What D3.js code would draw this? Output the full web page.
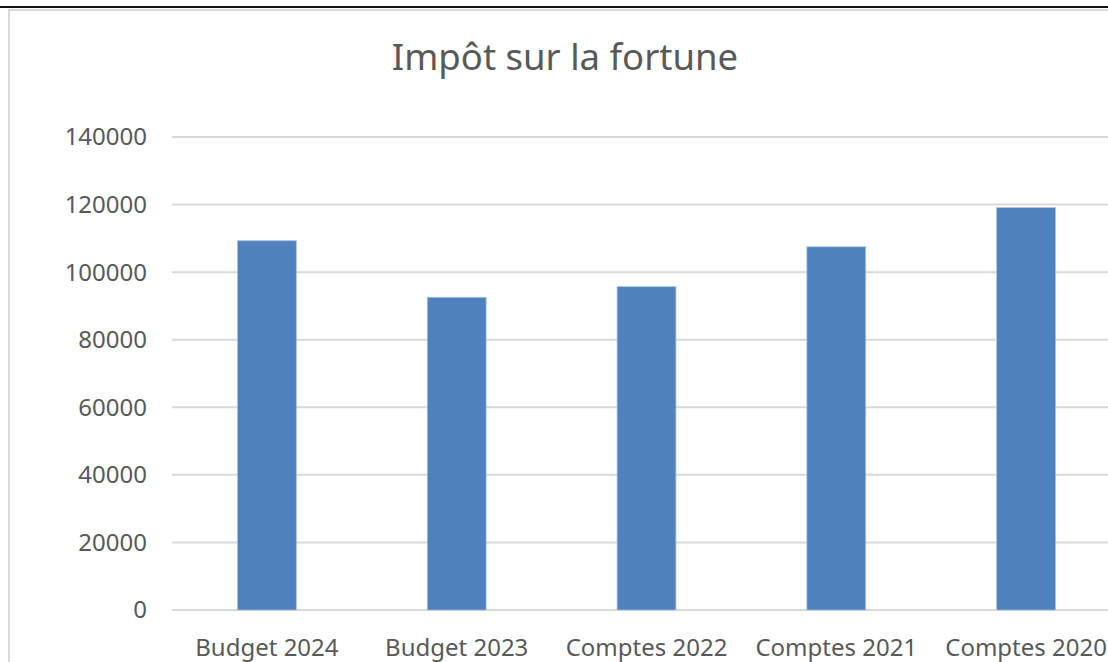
<!DOCTYPE html>
<html>
<head>
<meta charset="utf-8">
<script src="https://cdn.jsdelivr.net/npm/d3@7"></script>
<style>
  body { margin: 0; background: #fff; }
  svg { display: block; font-family: "Noto Sans", sans-serif; }
</style>
</head>
<body>
<svg id="chart_svg"></svg>
<script>
// chart data
const categories = ["Budget 2024", "Budget 2023", "Comptes 2022", "Comptes 2021", "Comptes 2020"];
const values = [109300, 92550, 95700, 107500, 119100];
const yTicks = [0, 20000, 40000, 60000, 80000, 100000, 120000, 140000];
const title = "Impôt sur la fortune";

const width = 1108;
const height = 662;

// plot area (runs a bit past the right edge, as in the cropped original)
const margin = { top: 137, left: 172, bottom: 52 };
const plotRight = 1121;

const svg = d3.select("#chart_svg").attr("width", width).attr("height", height);

// outer frame lines
svg.append("line")
  .attr("x1", 0).attr("x2", width).attr("y1", 7).attr("y2", 7)
  .attr("stroke", "#111").attr("stroke-width", 2);
svg.append("line")
  .attr("x1", 8).attr("x2", width).attr("y1", 10).attr("y2", 10)
  .attr("stroke", "#d9d9d9").attr("stroke-width", 2);
svg.append("line")
  .attr("x1", 9).attr("x2", 9).attr("y1", 10).attr("y2", height)
  .attr("stroke", "#d9d9d9").attr("stroke-width", 2);

// scales
const x = d3.scaleBand()
  .domain(categories)
  .range([margin.left, plotRight])
  .paddingInner(0.69)
  .paddingOuter(0.345);

const y = d3.scaleLinear()
  .domain([0, 140000])
  .range([height - margin.bottom, margin.top]);

// gridlines
svg.append("g")
  .selectAll("line")
  .data(yTicks)
  .enter()
  .append("line")
  .attr("x1", margin.left)
  .attr("x2", plotRight)
  .attr("y1", (d) => y(d))
  .attr("y2", (d) => y(d))
  .attr("stroke", "#d9d9d9")
  .attr("stroke-width", 2);

// y labels
svg.append("g")
  .selectAll("text")
  .data(yTicks)
  .enter()
  .append("text")
  .attr("x", 147)
  .attr("y", (d) => y(d))
  .attr("dy", "0.35em")
  .attr("text-anchor", "end")
  .attr("font-size", 24)
  .attr("fill", "#595959")
  .text((d) => d);

// bars
svg.append("g")
  .selectAll("rect")
  .data(values)
  .enter()
  .append("rect")
  .attr("x", (d, i) => x(categories[i]))
  .attr("y", (d) => y(d))
  .attr("width", x.bandwidth())
  .attr("height", (d) => y(0) - y(d))
  .attr("fill", "#4f81bd")
  .attr("stroke", "#a9c1e2")
  .attr("stroke-width", 0.8);

// x labels
svg.append("g")
  .selectAll("text")
  .data(categories)
  .enter()
  .append("text")
  .attr("x", (d) => x(d) + x.bandwidth() / 2)
  .attr("y", 656)
  .attr("text-anchor", "middle")
  .attr("font-size", 24)
  .attr("fill", "#595959")
  .text((d) => d);

// title
svg.append("text")
  .attr("x", 565)
  .attr("y", 70)
  .attr("text-anchor", "middle")
  .attr("font-size", 36.5)
  .attr("fill", "#595959")
  .text(title);
</script>
</body>
</html>
